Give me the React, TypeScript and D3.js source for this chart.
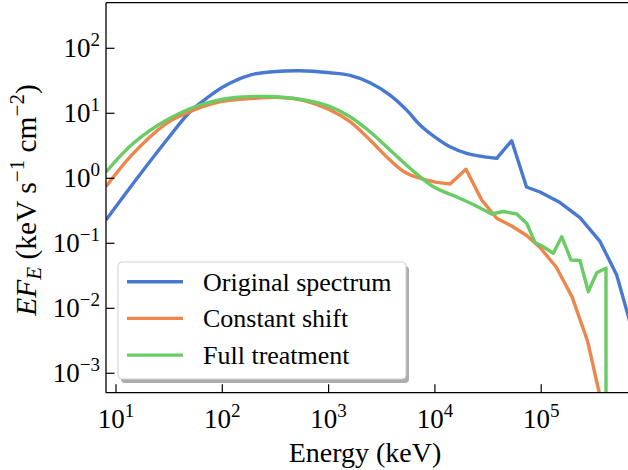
import React from "react";
import * as d3 from "d3";

// ---- data ----
const originalE = [8.05, 15.87, 29.99, 48.6, 61.7, 102.2, 182.3, 299.9, 538, 1031, 1590, 2452, 3781, 5430, 7241, 10400, 13870, 19920, 28530, 38140, 52780, 72720, 97430, 150300, 231700, 357500, 513200, 655600, 762800];
const originalF = [0.228, 1.01, 3.88, 10.2, 14.25, 25.7, 38.8, 43.6, 45.2, 42.1, 38.3, 29.6, 19.1, 11.2, 6.61, 4.12, 3.06, 2.42, 2.15, 2.03, 3.79, 0.735, 0.616, 0.424, 0.249, 0.107, 0.0325, 0.00788, 0.00303];

const shiftE = [8.05, 14.54, 29.99, 54.2, 96.6, 198.7, 349, 587, 1031, 1590, 2452, 3781, 5430, 9659, 13870, 19620, 27560, 38140, 52780, 73040, 97430, 137800, 194900, 272700, 352100, 381500];
const shiftF = [0.748, 2.42, 7.02, 11.24, 15.08, 17.01, 17.5, 15.74, 11.24, 7.43, 3.88, 1.91, 1.194, 0.886, 0.817, 1.375, 0.4636, 0.2425, 0.1845, 0.1318, 0.0862, 0.0436, 0.01509, 0.00314, 0.000498, 0.000272];

const fullE = [8.05, 14.54, 29.99, 61.7, 126.9, 261.6, 538, 1031, 1590, 2452, 3781, 5833, 9659, 16040, 22980, 34220, 44000, 58840, 73040, 87450, 104600, 130000, 155900, 190700, 231700, 277400, 332700, 407100, 407200];
const fullF = [1.25, 3.455, 7.885, 13.42, 17.38, 18.14, 16.42, 12.64, 8.87, 5.21, 2.725, 1.425, 0.743, 0.516, 0.3954, 0.2823, 0.3084, 0.2823, 0.2031, 0.1029, 0.0886, 0.0702, 0.1263, 0.0553, 0.0544, 0.018, 0.0353, 0.0412, 0.000001];

// last energy of the smooth (low-energy) part of each spectrum
const smoothUntil = [38140, 13870, 22980];

const seriesNames = ["Original spectrum", "Constant shift", "Full treatment"];
const seriesColors = ["#4878d0", "#ee854a", "#6acc64"];

const xTickExps = [1, 2, 3, 4, 5];
const yTickExps = [-3, -2, -1, 0, 1, 2];

const W = 628;
const H = 470;
const L = 106;
const R = 629;
const T = 2.7;
const B = 392.7;

const FONT = "'Liberation Serif', 'Times New Roman', serif";

export default function App() {
  const x = d3.scaleLog().domain([Math.pow(10, 0.9059), Math.pow(10, 5.826)]).range([L, R]);
  const y = d3.scaleLog().domain([Math.pow(10, -3.2985), Math.pow(10, 2.7015)]).range([B, T]);

  const smooth = d3
    .line<[number, number]>()
    .x((d) => x(d[0]))
    .y((d) => y(d[1]))
    .curve(d3.curveCatmullRom.alpha(0.5));
  const linear = d3
    .line<[number, number]>()
    .x((d) => x(d[0]))
    .y((d) => y(d[1]));

  const series = [
    { E: originalE, F: originalF },
    { E: shiftE, F: shiftF },
    { E: fullE, F: fullF },
  ];

  const paths = series.map((s, i) => {
    const pts = s.E.map((e, j) => [e, s.F[j]] as [number, number]);
    const k = s.E.indexOf(smoothUntil[i]);
    const a = smooth(pts.slice(0, k + 1)) || "";
    const b = linear(pts.slice(k)) || "";
    return a + b.replace(/^M[^LC]*/, "");
  });

  const minus = (n: number) => (n < 0 ? "\u2212" + Math.abs(n) : String(n));

  return (
    <svg
      width={W}
      height={H}
      viewBox={`0 0 ${W} ${H}`}
      style={{ position: "absolute", left: 0, top: 0, background: "#fff" }}
      fontFamily={FONT}
    >
      <defs>
        <clipPath id="plot">
          <rect x={L} y={T} width={R - L} height={B - T} />
        </clipPath>
      </defs>
      <rect x={0} y={0} width={W} height={H} fill="#fff" />

      {/* lines */}
      <g clipPath="url(#plot)" fill="none" strokeWidth={3.4} strokeLinejoin="round" strokeLinecap="butt">
        {paths.map((d, i) => (
          <path key={i} d={d} stroke={seriesColors[i]} />
        ))}
      </g>

      {/* spines */}
      <g stroke="#000" strokeWidth={1.3} fill="none">
        <line x1={L} x2={L} y1={T} y2={B} />
        <line x1={L} x2={R} y1={B} y2={B} />
        <line x1={L} x2={R} y1={T} y2={T} />
        <line x1={R} x2={R} y1={T} y2={B} />
      </g>

      {/* x ticks */}
      {xTickExps.map((k) => {
        const px = x(Math.pow(10, k));
        return (
          <g key={"x" + k}>
            <line x1={px} x2={px} y1={B} y2={B - 8.5} stroke="#000" strokeWidth={1.2} />
            <text x={px} y={428} textAnchor="middle" fontSize={27} fill="#000">
              <tspan>10</tspan>
              <tspan fontSize={19} dy={-11}>{minus(k)}</tspan>
            </text>
          </g>
        );
      })}

      {/* y ticks */}
      {yTickExps.map((k) => {
        const py = y(Math.pow(10, k));
        return (
          <g key={"y" + k}>
            <line x1={L} x2={L + 8.5} y1={py} y2={py} stroke="#000" strokeWidth={1.2} />
            <text x={100} y={py + 9} textAnchor="end" fontSize={27} fill="#000">
              <tspan>10</tspan>
              <tspan fontSize={19} dy={-11}>{minus(k)}</tspan>
            </text>
          </g>
        );
      })}

      {/* axis labels */}
      <text x={365} y={462} textAnchor="middle" fontSize={28} fill="#000">
        Energy (keV)
      </text>
      <text transform="translate(36,200) rotate(-90)" textAnchor="middle" fontSize={29.5} fill="#000">
        <tspan fontStyle="italic">EF</tspan>
        <tspan fontStyle="italic" fontSize={21} dy={5}>E</tspan>
        <tspan dy={-5}> (keV s</tspan>
        <tspan fontSize={21} dy={-12}>{"\u22121"}</tspan>
        <tspan dy={12}> cm</tspan>
        <tspan fontSize={21} dy={-12}>{"\u22122"}</tspan>
        <tspan dy={12}>)</tspan>
      </text>

      {/* legend */}
      <g>
        <rect x={121} y={266} width={288} height={117} rx={4} fill="#adadad" />
        <rect x={118} y={262} width={288} height={117} rx={4} fill="#fff" stroke="#cfcfcf" strokeWidth={1} />
        {seriesNames.map((n, i) => {
          const ry = 281.7 + i * 36.7;
          return (
            <g key={n}>
              <line x1={127} x2={183} y1={ry} y2={ry} stroke={seriesColors[i]} strokeWidth={3.4} />
              <text x={203} y={ry + 9} fontSize={26} fill="#000">
                {n}
              </text>
            </g>
          );
        })}
      </g>
    </svg>
  );
}
